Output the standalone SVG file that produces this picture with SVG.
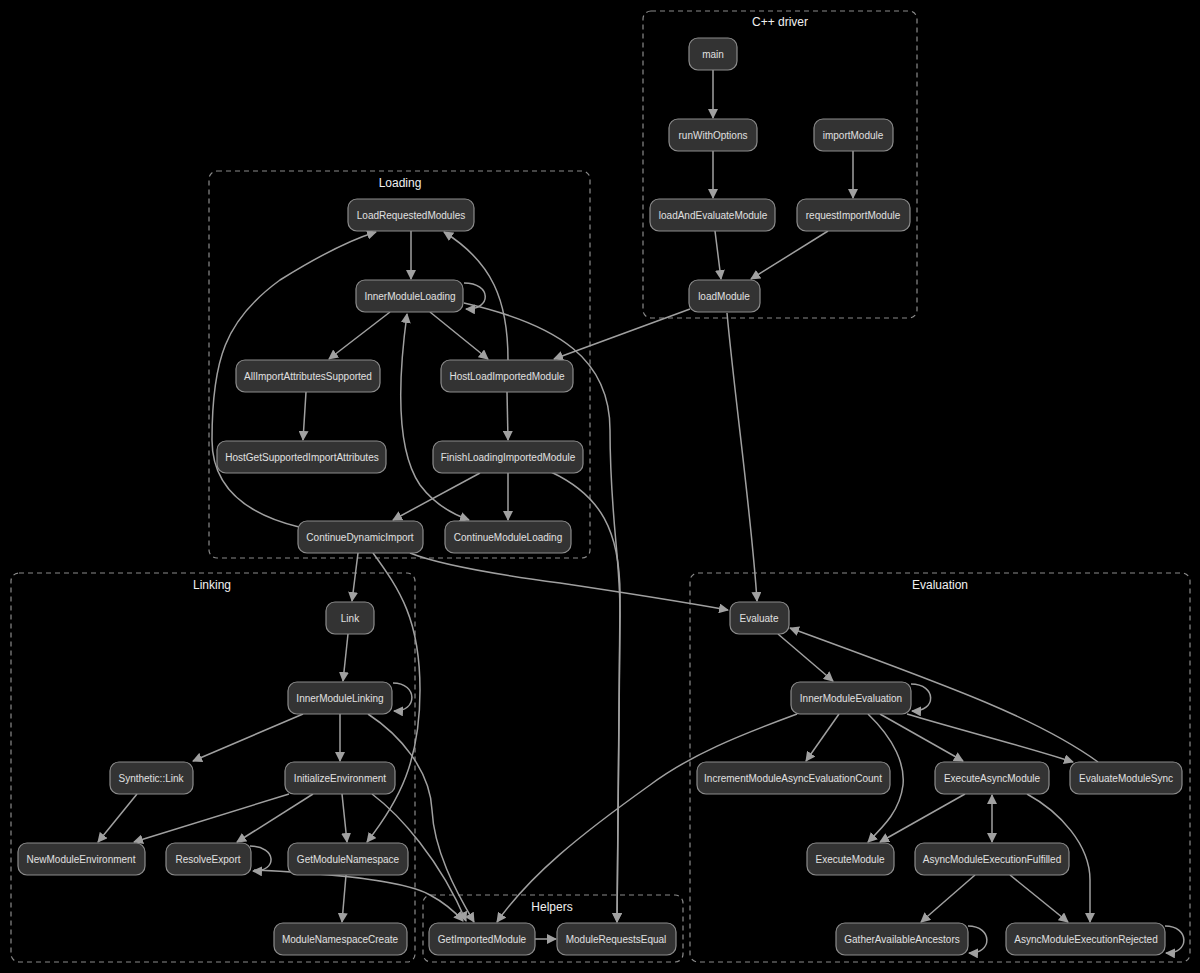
<svg xmlns="http://www.w3.org/2000/svg" width="1200" height="973" viewBox="0 0 1200 973">
<defs>
<style>
.cl{fill:none;stroke:#8a8a8a;stroke-width:1.2;stroke-dasharray:5,4}
.ct{font-family:"Liberation Sans",Arial,sans-serif;font-size:12px;fill:#f0f0f0;text-anchor:middle}
.n rect{fill:#333;stroke:#8c8c8c;stroke-width:1.2}
.n text{font-family:"Liberation Sans",Arial,sans-serif;font-size:10px;fill:#e0e0e0;text-anchor:middle}
.e path{fill:none;stroke:#a0a0a0;stroke-width:1.5;marker-end:url(#a)}
.e path.b{marker-start:url(#s)}
</style>
<marker id="a" viewBox="0 0 10 10" refX="9" refY="5" markerWidth="10" markerHeight="10" markerUnits="userSpaceOnUse" orient="auto"><path d="M0,0 L10,5 L0,10 z" fill="#a0a0a0"/></marker>
<marker id="s" viewBox="0 0 10 10" refX="9" refY="5" markerWidth="10" markerHeight="10" markerUnits="userSpaceOnUse" orient="auto-start-reverse"><path d="M0,0 L10,5 L0,10 z" fill="#a0a0a0"/></marker>
</defs>
<rect width="1200" height="973" fill="#000"/>

<g id="clusters">
<rect class="cl" x="643" y="11" width="274" height="307" rx="8"/>
<text class="ct" x="780" y="26">C++ driver</text>
<rect class="cl" x="209" y="171" width="381" height="387" rx="8"/>
<text class="ct" x="400" y="187">Loading</text>
<rect class="cl" x="11" y="573" width="404" height="389" rx="8"/>
<text class="ct" x="212" y="589">Linking</text>
<rect class="cl" x="423" y="895" width="260" height="67" rx="8"/>
<text class="ct" x="552" y="911">Helpers</text>
<rect class="cl" x="690" y="573" width="500" height="389" rx="8"/>
<text class="ct" x="940" y="589">Evaluation</text>
</g>

<g id="edges" class="e">
<path d="M713,70 L713,118"/>
<path d="M713,151 L713,198"/>
<path d="M853,151 L853,198"/>
<path d="M715,231 L721,279"/>
<path d="M828,231 L751,279"/>
<path d="M690,309 L554,359"/>
<path d="M727,313 C735,400 752,520 757,601"/>
<path d="M411,231 L411,279"/>
<path d="M464,283 C492,283 492,310 466,309"/>
<path d="M390,312 L329,359"/>
<path d="M430,312 L488,359"/>
<path d="M464,303 C560,325 610,360 610,430 C610,520 621,560 620,620 L617,922"/>
<path d="M306,392 L303,440"/>
<path d="M507,392 L508,440"/>
<path d="M508,360 C508,300 492,262 444,232"/>
<path d="M480,473 L393,520"/>
<path d="M508,473 L508,520"/>
<path d="M551,472 C600,495 621,530 620,600 L617,922"/>
<path class="b" d="M407,314 C398,380 396,450 420,485 C435,505 452,514 469,520"/>
<path d="M299,527 C250,515 212,490 212,440 C212,360 225,320 280,280 C320,255 350,240 376,232"/>
<path d="M358,553 L352,601"/>
<path d="M373,553 C400,590 420,620 420,690 C420,760 400,800 367,842"/>
<path d="M410,553 C440,565 500,575 560,583 C640,595 700,605 728,610"/>
<path d="M348,634 L343,681"/>
<path d="M393,683 C418,683 418,712 394,711"/>
<path d="M303,714 L193,761"/>
<path d="M340,714 L340,761"/>
<path d="M368,714 C400,735 430,770 432,810 C434,850 455,890 474,922"/>
<path d="M137,794 L98,842"/>
<path d="M289,794 L134,842"/>
<path d="M313,794 L237,842"/>
<path d="M342,794 L347,842"/>
<path d="M372,794 C400,815 440,860 466,921"/>
<path d="M250,846 C277,846 278,872 253,871"/>
<path d="M254,870 C300,872 400,878 430,895 C445,903 455,912 463,921"/>
<path d="M346,875 L342,922"/>
<path d="M535,939 L556,939"/>
<path d="M797,714 C740,735 690,755 650,785 C580,835 530,875 497,922"/>
<path d="M778,634 L833,681"/>
<path d="M911,684 C937,684 937,712 912,711"/>
<path d="M839,714 L806,761"/>
<path d="M868,714 C895,740 905,765 903,785 C900,810 885,825 868,842"/>
<path d="M880,714 L963,761"/>
<path d="M907,714 C960,730 1020,745 1073,762"/>
<path d="M1098,762 C1040,720 960,690 790,628"/>
<path d="M965,794 L880,842"/>
<path class="b" d="M992,795 L992,842"/>
<path d="M1027,794 C1060,812 1090,845 1090,880 L1090,922"/>
<path d="M975,875 L921,922"/>
<path d="M1010,875 L1068,922"/>
<path d="M968,926 C993,926 993,954 969,953"/>
<path d="M1165,926 C1190,926 1190,954 1166,953"/>
</g>

<g id="main" class="n"><rect x="689" y="38" width="48" height="32" rx="9"/><text x="713" y="58">main</text></g>
<g id="runWithOptions" class="n"><rect x="669" y="119" width="88" height="32" rx="9"/><text x="713" y="139">runWithOptions</text></g>
<g id="importModule" class="n"><rect x="814" y="119" width="79" height="32" rx="9"/><text x="853" y="139">importModule</text></g>
<g id="loadAndEvaluateModule" class="n"><rect x="650" y="199" width="125" height="32" rx="9"/><text x="713" y="219">loadAndEvaluateModule</text></g>
<g id="requestImportModule" class="n"><rect x="797" y="199" width="113" height="32" rx="9"/><text x="853" y="219">requestImportModule</text></g>
<g id="loadModule" class="n"><rect x="689" y="280" width="71" height="32" rx="9"/><text x="724" y="300">loadModule</text></g>

<g id="LoadRequestedModules" class="n"><rect x="348" y="199" width="126" height="32" rx="9"/><text x="411" y="219">LoadRequestedModules</text></g>
<g id="InnerModuleLoading" class="n"><rect x="356" y="280" width="107" height="32" rx="9"/><text x="410" y="300">InnerModuleLoading</text></g>
<g id="AllImportAttributesSupported" class="n"><rect x="236" y="360" width="144" height="32" rx="9"/><text x="308" y="380">AllImportAttributesSupported</text></g>
<g id="HostLoadImportedModule" class="n"><rect x="441" y="360" width="132" height="32" rx="9"/><text x="507" y="380">HostLoadImportedModule</text></g>
<g id="HostGetSupportedImportAttributes" class="n"><rect x="217" y="441" width="169" height="32" rx="9"/><text x="302" y="461">HostGetSupportedImportAttributes</text></g>
<g id="FinishLoadingImportedModule" class="n"><rect x="433" y="441" width="150" height="32" rx="9"/><text x="508" y="461">FinishLoadingImportedModule</text></g>
<g id="ContinueDynamicImport" class="n"><rect x="298" y="521" width="125" height="32" rx="9"/><text x="360" y="541">ContinueDynamicImport</text></g>
<g id="ContinueModuleLoading" class="n"><rect x="445" y="521" width="126" height="32" rx="9"/><text x="508" y="541">ContinueModuleLoading</text></g>

<g id="Link" class="n"><rect x="326" y="602" width="48" height="32" rx="9"/><text x="350" y="622">Link</text></g>
<g id="InnerModuleLinking" class="n"><rect x="288" y="682" width="104" height="32" rx="9"/><text x="340" y="702">InnerModuleLinking</text></g>
<g id="SyntheticLink" class="n"><rect x="110" y="762" width="83" height="32" rx="9"/><text x="151" y="782">Synthetic::Link</text></g>
<g id="InitializeEnvironment" class="n"><rect x="285" y="762" width="110" height="32" rx="9"/><text x="340" y="782">InitializeEnvironment</text></g>
<g id="NewModuleEnvironment" class="n"><rect x="18" y="843" width="127" height="32" rx="9"/><text x="81" y="863">NewModuleEnvironment</text></g>
<g id="ResolveExport" class="n"><rect x="166" y="843" width="85" height="32" rx="9"/><text x="208" y="863">ResolveExport</text></g>
<g id="GetModuleNamespace" class="n"><rect x="288" y="843" width="120" height="32" rx="9"/><text x="348" y="863">GetModuleNamespace</text></g>
<g id="ModuleNamespaceCreate" class="n"><rect x="274" y="923" width="133" height="32" rx="9"/><text x="340" y="943">ModuleNamespaceCreate</text></g>

<g id="GetImportedModule" class="n"><rect x="429" y="923" width="106" height="32" rx="9"/><text x="482" y="943">GetImportedModule</text></g>
<g id="ModuleRequestsEqual" class="n"><rect x="557" y="923" width="119" height="32" rx="9"/><text x="616" y="943">ModuleRequestsEqual</text></g>

<g id="Evaluate" class="n"><rect x="730" y="602" width="59" height="32" rx="9"/><text x="759" y="622">Evaluate</text></g>
<g id="InnerModuleEvaluation" class="n"><rect x="791" y="682" width="120" height="32" rx="9"/><text x="851" y="702">InnerModuleEvaluation</text></g>
<g id="IncrementModuleAsyncEvaluationCount" class="n"><rect x="697" y="762" width="193" height="32" rx="9"/><text x="793" y="782">IncrementModuleAsyncEvaluationCount</text></g>
<g id="ExecuteAsyncModule" class="n"><rect x="935" y="762" width="114" height="32" rx="9"/><text x="992" y="782">ExecuteAsyncModule</text></g>
<g id="EvaluateModuleSync" class="n"><rect x="1070" y="762" width="112" height="32" rx="9"/><text x="1126" y="782">EvaluateModuleSync</text></g>
<g id="ExecuteModule" class="n"><rect x="807" y="843" width="87" height="32" rx="9"/><text x="850" y="863">ExecuteModule</text></g>
<g id="AsyncModuleExecutionFulfilled" class="n"><rect x="915" y="843" width="154" height="32" rx="9"/><text x="992" y="863">AsyncModuleExecutionFulfilled</text></g>
<g id="GatherAvailableAncestors" class="n"><rect x="836" y="923" width="132" height="32" rx="9"/><text x="902" y="943">GatherAvailableAncestors</text></g>
<g id="AsyncModuleExecutionRejected" class="n"><rect x="1006" y="923" width="159" height="32" rx="9"/><text x="1086" y="943">AsyncModuleExecutionRejected</text></g>
</svg>
